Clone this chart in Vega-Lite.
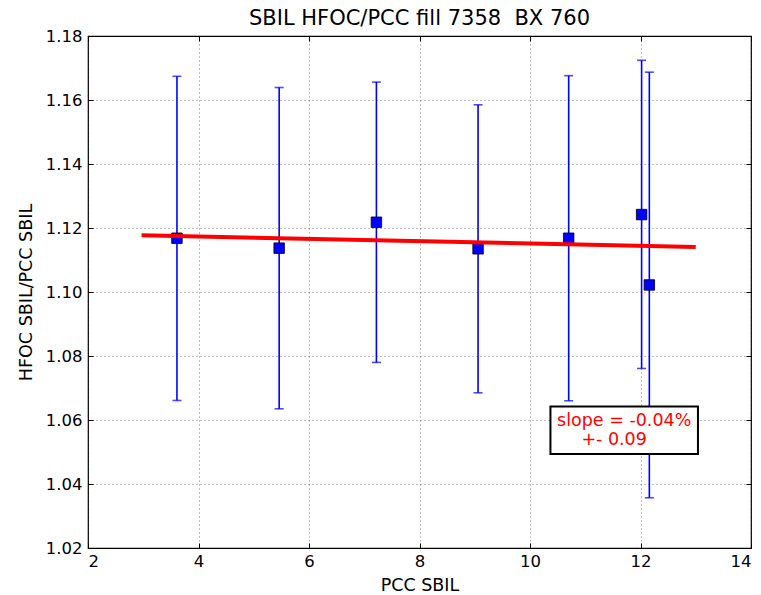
{
  "$schema": "https://vega.github.io/schema/vega-lite/v6.json",
  "width": 663,
  "height": 512,
  "autosize": "none",
  "padding": {"left": 88, "top": 36, "right": 10, "bottom": 47},
  "background": "white",
  "title": {"text": "SBIL HFOC/PCC fill 7358\u00a0 BX 760", "fontSize": 21, "font": "DejaVu Sans", "fontWeight": "normal", "color": "black", "offset": -1},
  "config": {
    "view": {"stroke": "black", "strokeWidth": 1.2},
    "axis": {
      "domain": false,
      "grid": true,
      "gridColor": "#000000",
      "gridOpacity": 0.5,
      "gridDash": [1, 3],
      "gridWidth": 1,
      "ticks": true,
      "tickColor": "black",
      "tickSize": -5,
      "tickWidth": 1,
      "labelFont": "DejaVu Sans",
      "labelFontSize": 16.5,
      "labelColor": "black",
      "titleFont": "DejaVu Sans",
      "titleFontSize": 17.5,
      "titleFontWeight": "normal",
      "titleColor": "black"
    }
  },
  "datasets": {
    "pts": [
      {"x": 3.61, "y": 1.1168, "lo": 1.0661, "hi": 1.1674},
      {"x": 5.46, "y": 1.1137, "lo": 1.0635, "hi": 1.1639},
      {"x": 7.22, "y": 1.1218, "lo": 1.0780, "hi": 1.1656},
      {"x": 9.06, "y": 1.1135, "lo": 1.0685, "hi": 1.1585},
      {"x": 10.70, "y": 1.1168, "lo": 1.0660, "hi": 1.1676},
      {"x": 12.02, "y": 1.1242, "lo": 1.0761, "hi": 1.1724},
      {"x": 12.16, "y": 1.1022, "lo": 1.0357, "hi": 1.1687}
    ],
    "fit": [
      {"x": 2.97, "y": 1.1177},
      {"x": 13, "y": 1.1141}
    ],
    "box": [
      {"x": 10.37, "x2": 13.04, "y": 1.0642, "y2": 1.0494}
    ],
    "labels": [
      {"x": 10.49, "y": 1.0580, "text": "slope = -0.04%"},
      {"x": 10.93, "y": 1.0523, "text": "+- 0.09"}
    ]
  },
  "resolve": {"axis": {"x": "independent", "y": "independent"}},
  "layer": [
    {
      "data": {"name": "pts"},
      "mark": {"type": "rule", "color": "#0000ff", "strokeWidth": 1.6},
      "encoding": {
        "x": {"field": "x", "type": "quantitative", "scale": {"domain": [2, 14], "nice": false, "zero": false},
              "axis": {"title": "PCC SBIL", "values": [2, 4, 6, 8, 10, 12, 14], "format": "d", "labelPadding": 10, "titlePadding": 7}},
        "y": {"field": "lo", "type": "quantitative", "scale": {"domain": [1.02, 1.18], "nice": false, "zero": false},
              "axis": {"title": "HFOC SBIL/PCC SBIL", "values": [1.02, 1.04, 1.06, 1.08, 1.10, 1.12, 1.14, 1.16, 1.18], "format": ".2f", "labelPadding": 11, "titlePadding": 10}},
        "y2": {"field": "hi"}
      }
    },
    {
      "data": {"name": "pts"},
      "mark": {"type": "tick", "orient": "horizontal", "color": "#0000ff", "size": 9, "thickness": 1.6},
      "encoding": {
        "x": {"field": "x", "type": "quantitative", "axis": null},
        "y": {"field": "hi", "type": "quantitative", "axis": null}
      }
    },
    {
      "data": {"name": "pts"},
      "mark": {"type": "tick", "orient": "horizontal", "color": "#0000ff", "size": 9, "thickness": 1.6},
      "encoding": {
        "x": {"field": "x", "type": "quantitative", "axis": null},
        "y": {"field": "lo", "type": "quantitative", "axis": null}
      }
    },
    {
      "data": {"name": "pts"},
      "mark": {"type": "square", "size": 110, "fill": "#0000ff", "fillOpacity": 1, "stroke": "black", "strokeWidth": 0.8},
      "encoding": {
        "x": {"field": "x", "type": "quantitative", "axis": null},
        "y": {"field": "y", "type": "quantitative", "axis": null}
      }
    },
    {
      "data": {"name": "fit"},
      "mark": {"type": "line", "color": "#ff0000", "strokeWidth": 4},
      "encoding": {
        "x": {"field": "x", "type": "quantitative", "axis": null},
        "y": {"field": "y", "type": "quantitative", "axis": null}
      }
    },
    {
      "data": {"name": "box"},
      "mark": {"type": "rect", "fill": "white", "stroke": "black", "strokeWidth": 2},
      "encoding": {
        "x": {"field": "x", "type": "quantitative", "axis": null},
        "x2": {"field": "x2"},
        "y": {"field": "y", "type": "quantitative", "axis": null},
        "y2": {"field": "y2"}
      }
    },
    {
      "data": {"name": "labels"},
      "mark": {"type": "text", "color": "#ff0000", "font": "DejaVu Sans", "fontSize": 17.5, "align": "left", "baseline": "alphabetic"},
      "encoding": {
        "x": {"field": "x", "type": "quantitative", "axis": null},
        "y": {"field": "y", "type": "quantitative", "axis": null},
        "text": {"field": "text"}
      }
    },
    {
      "data": {"name": "fit"},
      "mark": {"type": "point", "opacity": 0},
      "encoding": {
        "x": {"field": "x", "type": "quantitative",
              "axis": {"orient": "top", "title": null, "labels": false, "grid": false, "values": [2, 4, 6, 8, 10, 12, 14]}},
        "y": {"field": "y", "type": "quantitative",
              "axis": {"orient": "right", "title": null, "labels": false, "grid": false, "values": [1.02, 1.04, 1.06, 1.08, 1.10, 1.12, 1.14, 1.16, 1.18]}}
      }
    }
  ]
}
